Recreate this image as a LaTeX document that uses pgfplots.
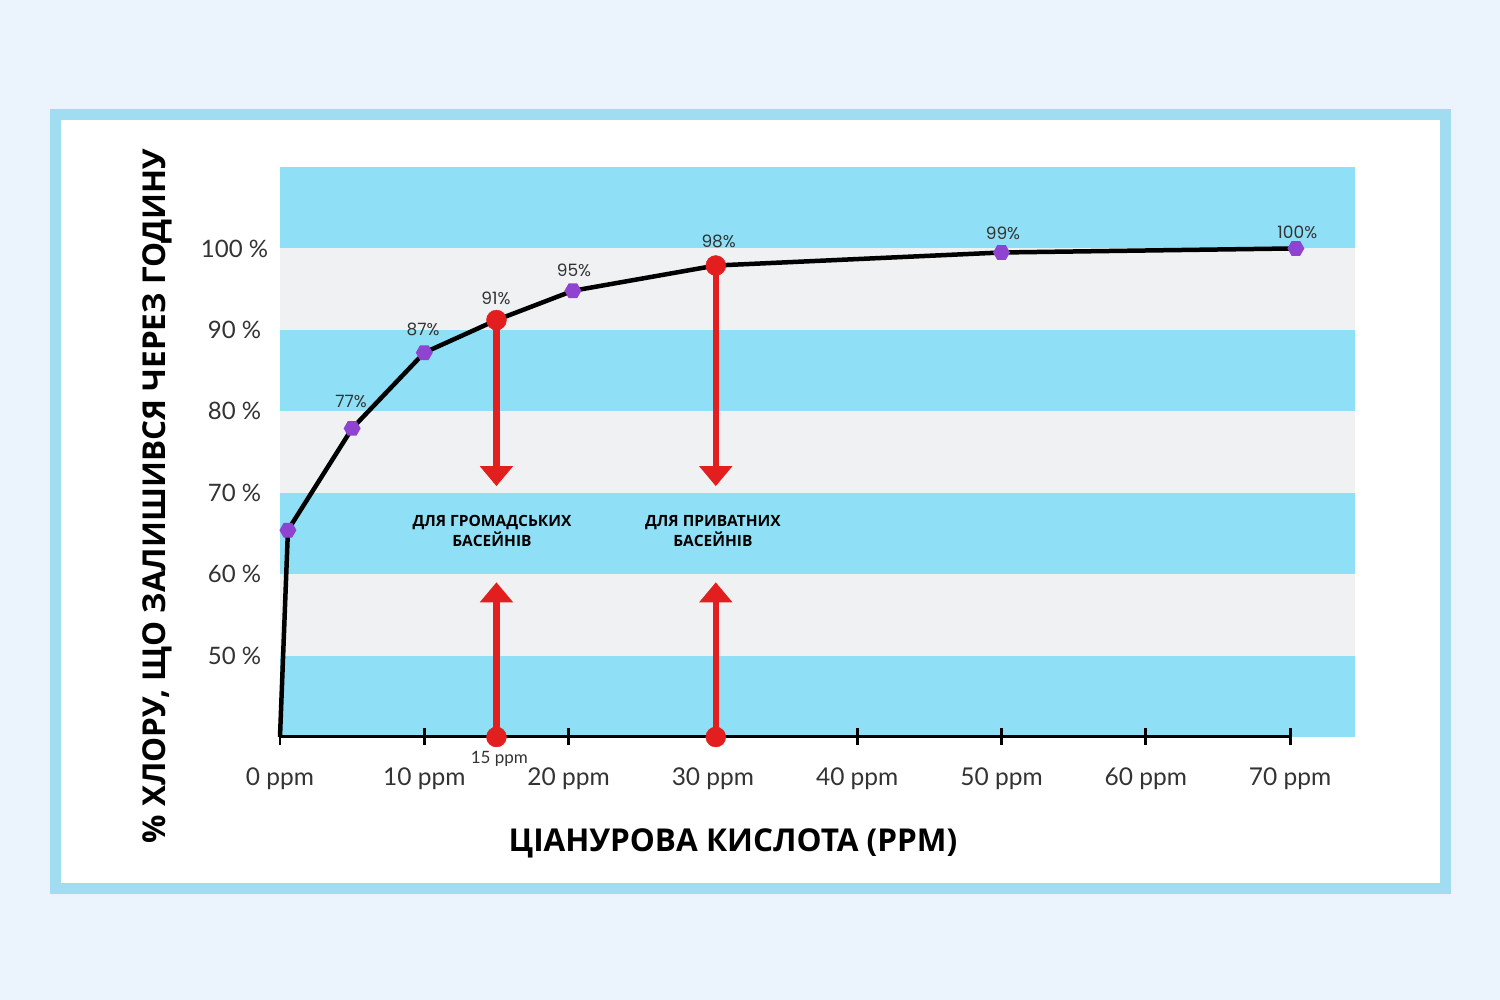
\documentclass[border=0pt]{standalone}
\usepackage{fontspec}
\setmainfont{Lato}
\newfontfamily\titlefont{Open Sans}
\newfontfamily\labfont{Poppins}
\usepackage{pgfplots}
\pgfplotsset{compat=1.18}
\usetikzlibrary{arrows.meta}
\definecolor{bgc}{HTML}{EBF3FC}
\definecolor{framec}{HTML}{A0DDF0}
\definecolor{sblue}{HTML}{8FE0F6}
\definecolor{sgray}{HTML}{F0F1F3}
\definecolor{purp}{HTML}{8E44D0}
\definecolor{redc}{HTML}{E31E1E}
\definecolor{tickc}{HTML}{333333}
\pgfdeclareplotmark{hexagon*}{%
 \pgfpathmoveto{\pgfpointpolar{0}{\pgfplotmarksize}}%
 \pgfpathlineto{\pgfpointpolar{60}{\pgfplotmarksize}}%
 \pgfpathlineto{\pgfpointpolar{120}{\pgfplotmarksize}}%
 \pgfpathlineto{\pgfpointpolar{180}{\pgfplotmarksize}}%
 \pgfpathlineto{\pgfpointpolar{240}{\pgfplotmarksize}}%
 \pgfpathlineto{\pgfpointpolar{300}{\pgfplotmarksize}}%
 \pgfpathclose
 \pgfusepathqfill}
\begin{document}
\begin{tikzpicture}
\begin{axis}[
 scale only axis, width=1075pt, height=570pt,
 xmin=0, xmax=74.5, ymin=40, ymax=110,
 set layers, clip=false,
 axis line style={draw=none},
 xtick={0,10,...,70},
 xticklabels={0 ppm,10 ppm,20 ppm,30 ppm,40 ppm,50 ppm,60 ppm,70 ppm},
 ytick={50,60,...,100},
 yticklabels={50 \%,60 \%,70 \%,80 \%,90 \%,100 \%},
 xtick pos=bottom, ytick pos=left,
 ytick style={draw=none},
 xtick style={black, line width=2.8pt},
 major tick length=17pt, tick align=center,
 x tick label style={font=\fontsize{24.5}{24.5}\selectfont, text=tickc, anchor=base, yshift=-40pt},
 y tick label style={font=\fontsize{24}{24}\selectfont, text=tickc, anchor=center, xshift=-37pt},
 xlabel={ЦІАНУРОВА КИСЛОТА (PPM)},
 ylabel={\% ХЛОРУ, ЩО ЗАЛИШИВСЯ ЧЕРЕЗ ГОДИНУ},
 xlabel style={font=\titlefont\bfseries\fontsize{31.5}{31.5}\selectfont, text=black, at={(rel axis cs:0.4214,-0.186)}, anchor=center},
 ylabel style={font=\titlefont\bfseries\fontsize{31.5}{31.5}\selectfont, text=black, at={(rel axis cs:-0.1144,0.4228)}, anchor=center},
]
\begin{pgfonlayer}{axis background}
% page background and frame, placed relative to the axis corner (280px, 737px)
\fill[bgc] ([shift={(-280pt,-263pt)}]rel axis cs:0,0) rectangle ([shift={(1220pt,737pt)}]rel axis cs:0,0);
\fill[framec] ([shift={(-230pt,-157pt)}]rel axis cs:0,0) rectangle ([shift={(1171pt,628pt)}]rel axis cs:0,0);
\fill[white] ([shift={(-219pt,-146pt)}]rel axis cs:0,0) rectangle ([shift={(1160pt,617pt)}]rel axis cs:0,0);
\fill[sblue] (axis cs:0,40) rectangle (axis cs:74.5,50);
\fill[sgray] (axis cs:0,50) rectangle (axis cs:74.5,60);
\fill[sblue] (axis cs:0,60) rectangle (axis cs:74.5,70);
\fill[sgray] (axis cs:0,70) rectangle (axis cs:74.5,80);
\fill[sblue] (axis cs:0,80) rectangle (axis cs:74.5,90);
\fill[sgray] (axis cs:0,90) rectangle (axis cs:74.5,100);
\fill[sblue] (axis cs:0,100) rectangle (axis cs:74.5,110);
\end{pgfonlayer}
% x axis line
\addplot[black, line width=3pt, no markers] coordinates {(0,40) (70,40)};
% curve
\addplot[black, line width=4.5pt, no markers, line join=round] coordinates {
(0,40) (0.55,65.4) (5,77.9) (10,87.2) (15,91.2) (20.3,94.8) (30.2,97.9) (50,99.5) (70.4,100)};
\addplot[only marks, mark=hexagon*, mark size=8.5pt, purp] coordinates {
(0.55,65.4) (5,77.9) (10,87.2) (20.3,94.8) (50,99.5) (70.4,100)};
% red arrows
\addplot[redc, line width=6.5pt, no markers, -{Triangle[width=32pt,length=20pt]}] coordinates {(15,91.2) (15,70.8)};
\addplot[redc, line width=6.5pt, no markers, -{Triangle[width=32pt,length=20pt]}] coordinates {(15,40) (15,59.0)};
\addplot[redc, line width=6.5pt, no markers, -{Triangle[width=32pt,length=20pt]}] coordinates {(30.2,97.9) (30.2,70.8)};
\addplot[redc, line width=6.5pt, no markers, -{Triangle[width=32pt,length=20pt]}] coordinates {(30.2,40) (30.2,59.0)};
\addplot[only marks, mark=*, mark size=10pt, redc] coordinates {(15,91.2) (30.2,97.9) (15,40) (30.2,40)};
% data labels
\begin{scope}[every node/.style={font=\labfont\fontsize{17}{17}\selectfont, text=tickc, anchor=center, inner sep=0pt}]
\node at (axis cs:4.92,81.26) {77\%};
\node at (axis cs:9.91,90.1) {87\%};
\node at (axis cs:14.97,93.9) {91\%};
\node at (axis cs:20.37,97.35) {95\%};
\node at (axis cs:30.4,100.9) {98\%};
\node at (axis cs:50.1,101.8) {99\%};
\node at (axis cs:70.5,102.0) {100\%};
\end{scope}
\node[font=\fontsize{17}{17}\selectfont, text=tickc, anchor=center, inner sep=0pt] at (axis cs:15.2,37.3) {15 ppm};
% text boxes
\begin{scope}[every node/.style={font=\titlefont\bfseries\fontsize{15.5}{20}\selectfont, text=black, align=center, anchor=center, inner sep=0pt}]
\node at (axis cs:14.69,65.3) {ДЛЯ ГРОМАДСЬКИХ\\БАСЕЙНІВ};
\node at (axis cs:30.0,65.3) {ДЛЯ ПРИВАТНИХ\\БАСЕЙНІВ};
\end{scope}
\end{axis}
\end{tikzpicture}
\end{document}
